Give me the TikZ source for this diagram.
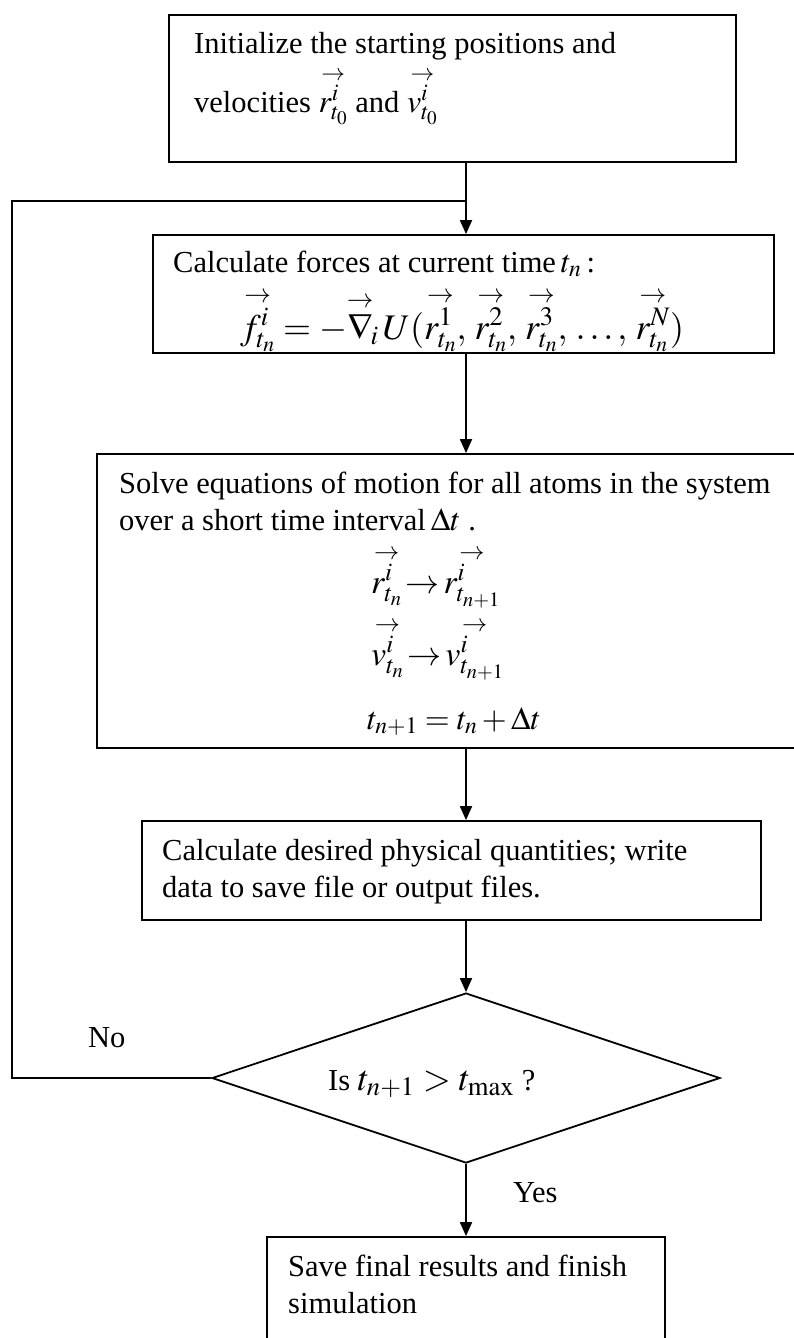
\documentclass[tikz,border=0pt]{standalone}
\usepackage{amsmath}
\usepackage{mathptmx}
\usepackage{fontspec}
\setmainfont{Liberation Serif}
\usetikzlibrary{arrows.meta,shapes.geometric}
\newcommand{\vecv}[3]{{\overset{\raisebox{-1.5pt}{$\scriptstyle\rightarrow$}}{#1^{#2}_{#3}}}}
\begin{document}
\begin{tikzpicture}[x=1pt,y=-1pt,
  box/.style={draw, line width=1.8pt, inner sep=0pt},
  txt/.style={anchor=base west, inner sep=0pt, font=\fontsize{30.5}{36}\selectfont},
  big/.style={anchor=base west, inner sep=0pt, font=\fontsize{34}{40}\selectfont},
  arr/.style={line width=1.8pt, -{Triangle[length=14pt,width=12pt]}},
  ln/.style={line width=1.8pt}]
\useasboundingbox (0,0) rectangle (794,1338);
\coordinate (ax) at (466,0);
\coordinate (lp) at (12,201);
% boxes
\node[box, minimum width=567pt, minimum height=147pt] (b1) at (452.5,88.5) {};
\node[box, minimum width=621pt, minimum height=118pt] (b2) at (463.5,294) {};
\node[box, minimum width=703pt, minimum height=294pt] (b3) at (448.5,601) {};
\node[box, minimum width=619pt, minimum height=99pt] (b4) at (451.5,870.5) {};
\node[box, diamond, minimum width=508pt, minimum height=170pt] (dia) at (466,1078) {};
\node[box, minimum width=398pt, minimum height=108pt] (b5) at (466,1291) {};
% texts
\node[txt] (t1a) at (194,53) {Initialize the starting positions and};
\node[txt] (t1b) at (194,112) {velocities \fontsize{32}{36}\selectfont$\vecv{r}{i}{t_0}$\fontsize{30.5}{36}\selectfont\ and \fontsize{32}{36}\selectfont$\vecv{v}{i}{t_0}$};
\node[txt] (t2a) at (173,272) {Calculate forces at current time\,\fontsize{32}{36}\selectfont$t_n$\fontsize{30.5}{36}\selectfont\,:};
\node[big, font=\fontsize{36}{42}\selectfont] (t2b) at (240,339) {$\vecv{f}{i}{t_n}=-\overset{\raisebox{-1.5pt}{$\scriptstyle\rightarrow$}}{\nabla}_{\!i}\,U(\vecv{r}{1}{t_n},\,\vecv{r}{2}{t_n},\,\vecv{r}{3}{t_n},\,\ldots,\,\vecv{r}{N}{t_n})$};
\node[txt] (t3a) at (119,493) {Solve equations of motion for all atoms in the system};
\node[txt] (t3b) at (119,530) {over a short time interval\,\fontsize{32}{36}\selectfont$\Delta t$\fontsize{30.5}{36}\selectfont\ .};
\node[big] (t3c) at (371,593) {$\vecv{r}{i}{t_n}\!\rightarrow\!\vecv{r}{i}{t_{n+1}}$};
\node[big] (t3d) at (371,665) {$\vecv{v}{i}{t_n}\!\rightarrow\!\vecv{v}{i}{t_{n+1}}$};
\node[big, font=\fontsize{32}{38}\selectfont] (t3e) at (367,729) {$t_{n+1}=t_n+\Delta t$};
\node[txt] (t4a) at (162,860) {Calculate desired physical quantities; write};
\node[txt] (t4b) at (162,897) {data to save file or output files.};
\node[txt] (td) at (328,1090) {Is \fontsize{36}{40}\selectfont$t_{n+1}>t_{\max}$\fontsize{30.5}{36}\selectfont\ ?};
\node[txt] (t5a) at (288,1276) {Save final results and finish};
\node[txt] (t5b) at (288,1313) {simulation};
\node[txt] (no) at (88,1047) {No};
\node[txt] (yes) at (513,1202) {Yes};
% connectors
\draw[arr] (b1.south -| ax) -- (b2.north -| ax);
\draw[arr] (b2.south -| ax) -- (b3.north -| ax);
\draw[arr] (b3.south -| ax) -- (b4.north -| ax);
\draw[arr] (b4.south -| ax) -- (dia.north);
\draw[arr] (dia.south) -- (b5.north);
\draw[ln] (dia.west) -- (dia.west -| lp) -- (lp) -- (lp -| ax);
\end{tikzpicture}
\end{document}
